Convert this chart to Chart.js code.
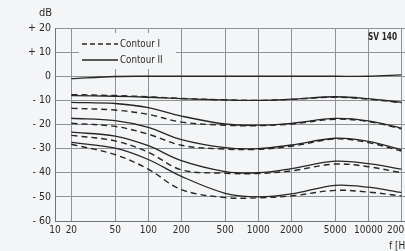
<!DOCTYPE html>
<html>
<head>
<meta charset="utf-8">
<script src="https://cdn.jsdelivr.net/npm/chart.js@4"></script>
<style>
html, body { margin:0; padding:0; background:#f4f5f6; overflow:hidden; }
#wrap { width:420px; height:251px; }
</style>
</head>
<body>
<div id="wrap"><canvas id="chart" width="420" height="251"></canvas></div>
<script>
// frequenzen (Hz) der stuetzpunkte
const freqs = [20, 50, 100, 200, 500, 1000, 2000, 5000, 10000, 20000];

// achsen
const xTicks = [14.2, 20, 50, 100, 200, 500, 1000, 2000, 5000, 10000, 20000];
const xTickLabels = ['10', '20', '50', '100', '200', '500', '1000', '2000', '5000', '10000', '20000'];
const yTicks = [20, 10, 0, -10, -20, -30, -40, -50, -60];
const yTickLabels = ['+ 20', '+ 10', '0', '- 10', '- 20', '- 30', '- 40', '- 50', '- 60'];

// Contour II (durchgezogen)
const c2_0  = [-1, -0.1, 0, 0, 0, 0, 0, 0, 0, 0.6];
const c2_10 = [-8, -8.3, -8.7, -9.3, -9.8, -10, -9.5, -8.5, -9.3, -10.8];
const c2_20 = [-10.8, -11.3, -13, -16.5, -19.8, -20.3, -19.5, -17.5, -18.5, -21.5];
const c2_30 = [-17.4, -18.4, -21.2, -26.3, -29.6, -30, -28.5, -25.7, -27, -30.5];
const c2_40 = [-23.2, -24.8, -28.8, -35, -39.5, -40, -38.3, -35.2, -36.2, -38.5];
const c2_50 = [-27.4, -29.8, -34.5, -41.5, -48.5, -50, -48.8, -45.2, -46, -48.2];

// Contour I (gestrichelt)
const c1_10 = [-7.6, -8, -8.5, -9.2, -9.8, -10, -9.6, -8.7, -9.5, -11];
const c1_20 = [-13.3, -14, -15.8, -19, -20.3, -20.5, -19.8, -17.8, -18.8, -21.8];
const c1_30 = [-19.5, -20.8, -24, -28.6, -30.2, -30.3, -29, -26, -27.5, -31];
const c1_40 = [-24.5, -26.8, -31.5, -38.8, -40.2, -40.3, -39.2, -36.4, -37.5, -40];
const c1_50 = [-28.2, -32.5, -38.5, -47, -50.3, -50.4, -49.6, -47.3, -48, -49.6];

const solidSeries = [c2_0, c2_10, c2_20, c2_30, c2_40, c2_50];
const dashedSeries = [c1_10, c1_20, c1_30, c1_40, c1_50];

const lineColor = '#262626';
const dashPattern = [6, 4];

function toPoints(arr) {
    return arr.map((v, i) => ({ x: freqs[i], y: v }));
}

const datasets = [];
dashedSeries.forEach(s => {
    datasets.push({
        label: 'Contour I',
        data: toPoints(s),
        borderColor: lineColor,
        borderWidth: 1.4,
        borderDash: dashPattern,
        pointRadius: 0,
        tension: 0.35
    });
});
solidSeries.forEach(s => {
    datasets.push({
        label: 'Contour II',
        data: toPoints(s),
        borderColor: lineColor,
        borderWidth: 1.3,
        pointRadius: 0,
        tension: 0.35
    });
});

const fontFam = '"DejaVu Sans Condensed", "Liberation Sans", sans-serif';

// text schmal zeichnen (schrift im original ist sehr eng)
function narrowText(ctx, txt, x, y, sx) {
    ctx.save();
    ctx.translate(x, y);
    ctx.scale(sx, 1);
    ctx.fillText(txt, 0, 0);
    ctx.restore();
}

// legende, "dB", "f [Hz]" und typenschild selbst zeichnen
const extras = {
    id: 'extras',
    afterDraw(chart) {
        const ctx = chart.ctx;
        ctx.save();
        // legende-kasten ohne gitter
        ctx.fillStyle = '#f4f5f6';
        ctx.fillRect(79, 33, 97, 36);
        ctx.strokeStyle = lineColor;
        ctx.lineWidth = 1.3;
        ctx.setLineDash([5, 3]);
        ctx.beginPath(); ctx.moveTo(82, 44); ctx.lineTo(118, 44); ctx.stroke();
        ctx.setLineDash([]);
        ctx.beginPath(); ctx.moveTo(82, 60); ctx.lineTo(118, 60); ctx.stroke();
        ctx.fillStyle = '#2a2a2a';
        ctx.font = '11px ' + fontFam;
        ctx.textBaseline = 'middle';
        ctx.textAlign = 'left';
        narrowText(ctx, 'Contour I', 120, 44, 0.88);
        narrowText(ctx, 'Contour II', 120, 60, 0.88);
        ctx.fillText('dB', 39, 13);
        narrowText(ctx, 'f [Hz]', 389, 246, 0.9);
        ctx.font = 'bold 11px ' + fontFam;
        narrowText(ctx, 'SV 140', 368, 37, 0.75);
        ctx.restore();
    }
};

new Chart(document.getElementById('chart'), {
    type: 'line',
    data: { datasets: datasets },
    options: {
        responsive: false,
        devicePixelRatio: 1,
        animation: false,
        layout: { padding: { left: 0, top: 28, right: 0, bottom: 0 } },
        plugins: { legend: { display: false }, tooltip: { enabled: false } },
        scales: {
            x: {
                type: 'logarithmic',
                min: 14.2,
                max: 29500,
                afterBuildTicks: scale => { scale.ticks = xTicks.map(v => ({ value: v })); },
                afterFit: scale => { scale.height = 30; },
                grid: { color: '#8f9396', lineWidth: 1, drawTicks: false },
                border: { color: '#6f7376', width: 1 },
                ticks: {
                    color: '#2a2a2a',
                    font: { family: fontFam, size: 10 },
                    padding: 3,
                    maxRotation: 0,
                    autoSkip: false,
                    callback: (v, i) => xTickLabels[i]
                }
            },
            y: {
                min: -60,
                max: 20,
                afterBuildTicks: scale => { scale.ticks = yTicks.map(v => ({ value: v })); },
                afterFit: scale => { scale.width = 55; },
                grid: { color: '#8f9396', lineWidth: 1, drawTicks: false },
                border: { color: '#6f7376', width: 1 },
                ticks: {
                    color: '#2a2a2a',
                    font: { family: fontFam, size: 10.5 },
                    padding: 4,
                    callback: v => yTickLabels[yTicks.indexOf(v)]
                }
            }
        }
    },
    plugins: [extras]
});
</script>
</body>
</html>
